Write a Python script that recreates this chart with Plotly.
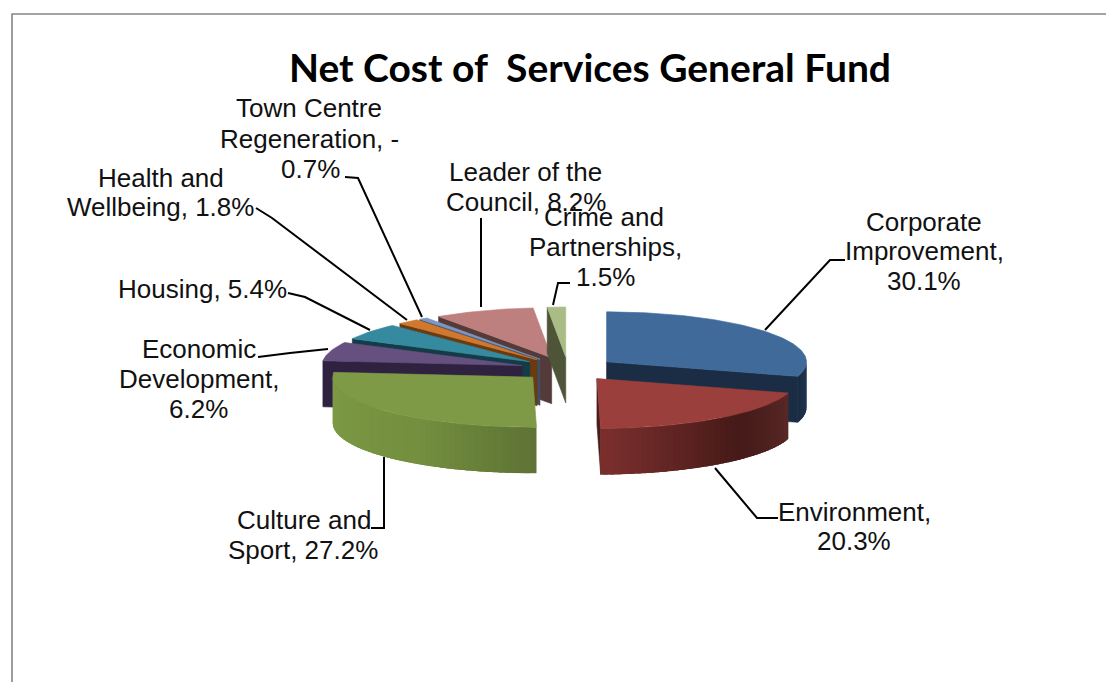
import numpy as np
import plotly.graph_objects as go

# ---- data ----
categories = ["Corporate Improvement", "Environment", "Culture and Sport", "Economic Development",
              "Housing", "Health and Wellbeing", "Town Centre Regeneration", "Leader of the Council",
              "Crime and Partnerships"]
values = [30.1, 20.3, 27.2, 6.2, 5.4, 1.8, -0.7, 8.2, 1.5]
top_colors = ["#3f6a9a", "#9b3f3d", "#7f9a47", "#66507f", "#358aa0", "#d0782e", "#7b97c2", "#be807e", "#a9bc86"]
wall_colors = ["#1b2d44", "#4a1c1a", "#6f8a3e", "#2e2240", "#143c48", "#6a3a10", "#3f4d66", "#553a3a", "#4d5438"]
draw_order = [7, 6, 5, 4, 3, 0, 1, 2, 8]

title_text = "Net Cost of\u00a0\u00a0Services General Fund"

label_lines = [
    [("Corporate", 924, 222), ("Improvement,", 924, 251), ("30.1%", 924, 281)],
    [("Environment,", 854, 512), ("20.3%", 854, 541)],
    [("Culture and", 304, 520), ("Sport, 27.2%", 303, 550)],
    [("Economic", 199, 349), ("Development,", 199, 379), ("6.2%", 198, 409)],
    [("Housing, 5.4%", 202, 289)],
    [("Health and", 161, 178), ("Wellbeing, 1.8%", 160, 207)],
    [("Town Centre", 309, 108), ("Regeneration, -", 309, 139), ("0.7%", 310, 169)],
    [("Leader of the", 525, 172), ("Council, 8.2%", 526, 202)],
    [("Crime and", 604, 217), ("Partnerships,", 605, 247), ("1.5%", 605, 277)],
]
leader_paths = [
    "M845 260 L830 260 L765 330", "M778 518 L757 518 L715 468", "M371 528 L384 528 L384 457",
    "M258 357 L290 353 L328 349", "M288 293 L305 297 L370 330", "M256 208 L272 218 L407 320",
    "M345 177 L358 178 L422 317", "M481 218 L481 307", "M570 283 L558 283 L553 305",
]

# ---- pie geometry (axes are in window pixels) ----
CX, CY, RX, RY, DEPTH, EXPLODE = 568, 369, 200, 50, 46, 0.24


def rgb(h):
    return np.array([int(h[i:i + 2], 16) for i in (1, 3, 5)], float)


def wall_shade(i, t):
    """Outer wall colour at pie angle t (deg)."""
    if i == 1:
        stops = [(106, "#5a2a28"), (135, "#451a18"), (178, "#7a2f2d")]
    elif i == 2:
        stops = [(178, "#5e7235"), (215, "#74903f"), (275, "#7f9c47")]
    elif i == 0:
        stops = [(88, "#3a5c84"), (94, "#1e3450"), (106, "#1b2d44")]
    else:
        return wall_colors[i]
    a = [s[0] for s in stops]
    c = [np.interp(t, a, [rgb(s[1])[k] for s in stops]) for k in range(3)]
    return "rgb(%d,%d,%d)" % tuple(c)


def poly(xs, ys, color, width=0.6):
    return go.Scatter(x=xs, y=ys, mode="lines", fill="toself", fillcolor=color,
                      line=dict(color=color, width=width), hoverinfo="skip", showlegend=False)


sizes = np.abs(values)
angles = np.concatenate([[0], np.cumsum(sizes)]) / sizes.sum() * 360
fig = go.Figure()

for i in draw_order:
    a0, a1 = angles[i], angles[i + 1]
    mid = np.radians((a0 + a1) / 2)
    ax = CX + EXPLODE * RX * np.sin(mid)
    ay = CY - EXPLODE * RY * np.cos(mid)
    px = lambda t: ax + RX * np.sin(np.radians(t))
    py = lambda t: ay - RY * np.cos(np.radians(t))
    # start-edge wall (faces viewer on the left half)
    if a0 >= 180:
        fig.add_trace(poly([ax, px(a0), px(a0), ax, ax],
                           [ay, py(a0), py(a0) + DEPTH, ay + DEPTH, ay], wall_colors[i]))
    # end-edge wall (faces viewer on the right half)
    if a1 <= 180:
        fig.add_trace(poly([ax, px(a1), px(a1), ax, ax],
                           [ay, py(a1), py(a1) + DEPTH, ay + DEPTH, ay], wall_colors[i]))
    # curved outer wall: overlapping strips so no seams show
    lo, hi = max(a0, 90), min(a1, 270)
    if hi > lo:
        edges = np.linspace(lo, hi, int((hi - lo) / 2) + 2)
        for t0 in edges[:-1]:
            ts = np.linspace(t0, min(t0 + 5, hi), 5)
            xs = list(px(ts)) + list(px(ts[::-1]))
            ys = list(py(ts)) + list(py(ts[::-1]) + DEPTH)
            fig.add_trace(poly(xs, ys, wall_shade(i, t0 + 1), width=0))
    # top face
    ts = np.linspace(a0, a1, max(3, int(a1 - a0) + 2))
    fig.add_trace(poly([ax] + list(px(ts)) + [ax], [ay] + list(py(ts)) + [ay], top_colors[i]))

shapes = [dict(type="path", path=p, layer="below", line=dict(color="#000000", width=2)) for p in leader_paths]
shapes += [dict(type="path", path="M12 690 L12 14 L1115 14", layer="below",
                line=dict(color="#868686", width=1.6))]

annotations = [dict(x=590, y=67, text=title_text, showarrow=False, xref="x", yref="y", xanchor="center",
                    yanchor="middle", font=dict(family="Lato", size=39, color="#000000", weight="bold"))]
for lines in label_lines:
    for txt, x, y in lines:
        annotations.append(dict(x=x, y=y, text=txt, showarrow=False, xref="x", yref="y", xanchor="center",
                                yanchor="middle", font=dict(family="Liberation Sans", size=26, color="#111111")))

fig.update_layout(
    width=1106, height=682, margin=dict(l=0, r=0, t=0, b=0), autosize=False,
    paper_bgcolor="white", plot_bgcolor="white", showlegend=False,
    xaxis=dict(range=[0, 1106], visible=False, fixedrange=True),
    yaxis=dict(range=[682, 0], visible=False, fixedrange=True),
    shapes=shapes, annotations=annotations,
)
fig.write_html("out.html", config=dict(displayModeBar=False),
               post_script="document.body.style.margin='0';document.body.style.overflow='hidden';")
